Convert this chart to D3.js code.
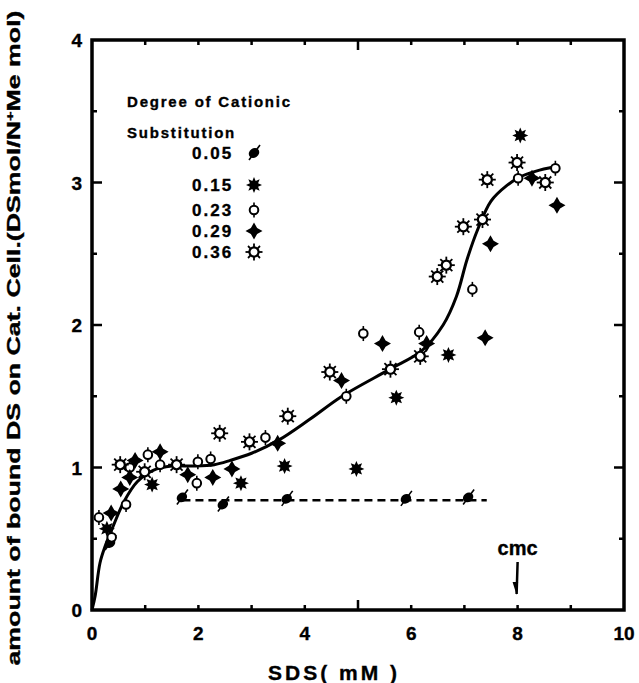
<!DOCTYPE html>
<html>
<head>
    <style>
        body { margin: 0; background: #fff; }
        text { font-family: "Liberation Sans", Arial, sans-serif; font-weight: bold; fill: #000; stroke: #000; stroke-width: 0.35px; }
        .frame { fill: none; stroke: #000; stroke-width: 3.5px; }
        .tick { stroke: #000; stroke-width: 2.5px; }
        .curve { fill: none; stroke: #000; stroke-width: 3px; }
        .dashed { fill: none; stroke: #000; stroke-width: 2.5px; stroke-dasharray: 8 5; }
    </style>
</head>
<body>
    <script src="https://d3js.org/d3.v7.min.js"></script>
    <script>
        // Data: [SDS mM, bound DS]
        var series005 = [[0.34, 0.47], [1.69, 0.79], [2.46, 0.74], [3.66, 0.78], [5.9, 0.78], [7.07, 0.79]];
        var series015 = [[0.28, 0.57], [1.13, 0.88], [2.8, 0.89], [3.62, 1.01], [4.97, 0.99],
            [5.72, 1.49], [6.7, 1.79], [8.05, 3.33]];
        var series023 = [[0.13, 0.65], [0.37, 0.51], [0.64, 0.74], [0.71, 1.0], [1.05, 1.09], [1.28, 1.02],
            [1.97, 0.89], [1.99, 1.04], [2.23, 1.06], [3.26, 1.21], [4.78, 1.5], [5.1, 1.94],
            [6.15, 1.95], [7.15, 2.25], [8.01, 3.03], [8.71, 3.1]];
        var series029 = [[0.36, 0.68], [0.54, 0.85], [0.71, 0.93], [0.81, 1.05], [1.28, 1.11], [1.8, 0.95],
            [2.27, 0.93], [2.63, 0.99], [3.49, 1.17], [4.69, 1.61], [5.46, 1.87], [6.29, 1.87],
            [7.39, 1.91], [7.49, 2.57], [8.27, 3.03], [8.74, 2.84]];
        var series036 = [[0.53, 1.02], [0.99, 0.97], [1.59, 1.02], [2.4, 1.24], [2.96, 1.18], [3.68, 1.36],
            [4.47, 1.67], [5.61, 1.69], [6.17, 1.78], [6.49, 2.34], [6.66, 2.42], [6.98, 2.69],
            [7.34, 2.74], [7.43, 3.02], [7.99, 3.14], [8.52, 3.0]];

        // hand drawn fit curve and the dashed level for 0.05
        var fitCurve = [[0, 0], [0.06, 0.1], [0.15, 0.33], [0.25, 0.45], [0.4, 0.59], [0.6, 0.76],
            [0.85, 0.9], [1.15, 0.98], [1.5, 1.01], [1.9, 1.01], [2.3, 1.02], [2.6, 1.05], [3.0, 1.1],
            [3.5, 1.19], [4.1, 1.34], [4.7, 1.5], [5.6, 1.69], [6.2, 1.82], [6.6, 2.0], [6.85, 2.2],
            [7.05, 2.46], [7.25, 2.67], [7.5, 2.87], [7.8, 2.98], [8.05, 3.04], [8.35, 3.08], [8.7, 3.11]];
        var dashedLevel = [[1.7, 0.77], [7.42, 0.77]];

        var legendLabels = ["0.05", "0.15", "0.23", "0.29", "0.36"];
        var xTickLabels = [0, 2, 4, 6, 8, 10];
        var yTickLabels = [0, 1, 2, 3, 4];
        var cmcValue = 8;

        var width = 639, height = 683;
        var x = d3.scaleLinear().domain([0, 10]).range([92, 624]);
        var y = d3.scaleLinear().domain([0, 4]).range([610, 40]);

        var svg = d3.select("body").append("svg")
            .attr("width", width)
            .attr("height", height);

        // marker drawing functions, one per degree of substitution
        function slashed(g) {
            g.append("ellipse").attr("rx", 5.5).attr("ry", 4.6)
                .attr("transform", "rotate(-35)").attr("fill", "#000");
            g.append("line").attr("x1", -5).attr("y1", 7).attr("x2", 6).attr("y2", -8)
                .attr("stroke", "#000").attr("stroke-width", 1.6);
        }
        function starPath(n, r1, r2) {
            var pts = [];
            for (var i = 0; i < n * 2; i++) {
                var a = Math.PI * i / n - Math.PI / 2;
                var r = i % 2 ? r2 : r1;
                pts.push([r * Math.cos(a), r * Math.sin(a)]);
            }
            return "M" + pts.join("L") + "Z";
        }
        function burst(g) {
            g.append("path").attr("d", starPath(8, 8, 4.4)).attr("fill", "#000");
        }
        function openTick(g) {
            g.append("line").attr("x1", 0).attr("y1", -7.5).attr("x2", 0).attr("y2", 7.5)
                .attr("stroke", "#000").attr("stroke-width", 1.6);
            g.append("circle").attr("r", 4.3).attr("fill", "#fff")
                .attr("stroke", "#000").attr("stroke-width", 2);
        }
        function diamond(g) {
            g.append("path").attr("d", starPath(4, 8.5, 4.4)).attr("fill", "#000");
        }
        function sun(g) {
            for (var i = 0; i < 8; i++) {
                var a = Math.PI * i / 4;
                g.append("line")
                    .attr("x1", 4.5 * Math.cos(a)).attr("y1", 4.5 * Math.sin(a))
                    .attr("x2", 8.5 * Math.cos(a)).attr("y2", 8.5 * Math.sin(a))
                    .attr("stroke", "#000").attr("stroke-width", 1.8);
            }
            g.append("circle").attr("r", 4.6).attr("fill", "#fff")
                .attr("stroke", "#000").attr("stroke-width", 2.2);
        }
        var markers = [slashed, burst, openTick, diamond, sun];
        var allSeries = [series005, series015, series023, series029, series036];

        // frame
        svg.append("rect").attr("class", "frame")
            .attr("x", x(0)).attr("y", y(4))
            .attr("width", x(10) - x(0)).attr("height", y(0) - y(4));

        // inward ticks on all four sides
        var yTicks = d3.range(0.5, 4, 0.5);
        svg.selectAll(".ytick").data(yTicks).enter().append("path")
            .attr("class", "tick")
            .attr("d", function (d) {
                var len = d % 1 === 0 ? 10 : 5;
                return "M" + x(0) + "," + y(d) + "h" + len
                    + "M" + x(10) + "," + y(d) + "h" + (-len);
            });
        var xTicks = d3.range(1, 10, 1);
        svg.selectAll(".xtick").data(xTicks).enter().append("path")
            .attr("class", "tick")
            .attr("d", function (d) {
                var len = d === 5 ? 10 : 5;
                return "M" + x(d) + "," + y(0) + "v" + (-len)
                    + "M" + x(d) + "," + y(4) + "v" + len;
            });

        // tick labels
        svg.selectAll(".xlab").data(xTickLabels).enter().append("text")
            .attr("x", function (d) { return x(d); })
            .attr("y", 640)
            .attr("text-anchor", "middle")
            .style("font-size", "19px")
            .text(function (d) { return d; });
        svg.selectAll(".ylab").data(yTickLabels).enter().append("text")
            .attr("x", 82)
            .attr("y", function (d) { return y(d) + 7; })
            .attr("text-anchor", "end")
            .style("font-size", "19px")
            .text(function (d) { return d; });

        // axis titles
        svg.append("text")
            .attr("x", 334).attr("y", 680)
            .attr("text-anchor", "middle")
            .style("font-size", "21px")
            .style("letter-spacing", "3px")
            .text("SDS( mM )");

        var yTitle = svg.append("text")
            .attr("transform", "translate(20,338) rotate(-90)")
            .attr("text-anchor", "middle")
            .style("font-size", "18px")
            .attr("textLength", 655)
            .attr("lengthAdjust", "spacingAndGlyphs");
        yTitle.append("tspan").text("amount of bound DS on Cat. Cell.(DSmol/N");
        yTitle.append("tspan").attr("dy", -6).style("font-size", "11px").text("+");
        yTitle.append("tspan").attr("dy", 6).text("Me mol)");

        // lines
        var line = d3.line()
            .x(function (d) { return x(d[0]); })
            .y(function (d) { return y(d[1]); })
            .curve(d3.curveCatmullRom);
        svg.append("path").attr("class", "dashed").attr("d", line(dashedLevel));
        svg.append("path").attr("class", "curve").attr("d", line(fitCurve));

        // points
        allSeries.forEach(function (data, i) {
            svg.selectAll(".s" + i).data(data).enter().append("g")
                .attr("transform", function (d) {
                    return "translate(" + x(d[0]) + "," + y(d[1]) + ")";
                })
                .each(function () { markers[i](d3.select(this)); });
        });

        // legend
        svg.append("text").attr("x", 127).attr("y", 107)
            .style("font-size", "15px").style("letter-spacing", "1.8px")
            .text("Degree of Cationic");
        svg.append("text").attr("x", 127).attr("y", 138)
            .style("font-size", "15px").style("letter-spacing", "1.8px")
            .text("Substitution");
        var legendY = [153, 185, 210, 231, 252];
        legendLabels.forEach(function (lab, i) {
            svg.append("text").attr("x", 192).attr("y", legendY[i] + 6)
                .style("font-size", "17px").style("letter-spacing", "2px")
                .text(lab);
            var g = svg.append("g").attr("transform", "translate(254," + legendY[i] + ")");
            markers[i](g);
        });

        // cmc marker
        svg.append("text").attr("x", x(cmcValue)).attr("y", 555)
            .attr("text-anchor", "middle")
            .style("font-size", "20px")
            .text("cmc");
        svg.append("line")
            .attr("x1", x(cmcValue)).attr("y1", 562)
            .attr("x2", x(cmcValue) - 1).attr("y2", 594)
            .attr("stroke", "#000").attr("stroke-width", 2.5);
        svg.append("path")
            .attr("d", "M" + (x(cmcValue) - 5) + ",582L" + (x(cmcValue) - 1) + ",595L"
                + (x(cmcValue) + 0.5) + ",582Z")
            .attr("fill", "#000");
    </script>
</body>
</html>
